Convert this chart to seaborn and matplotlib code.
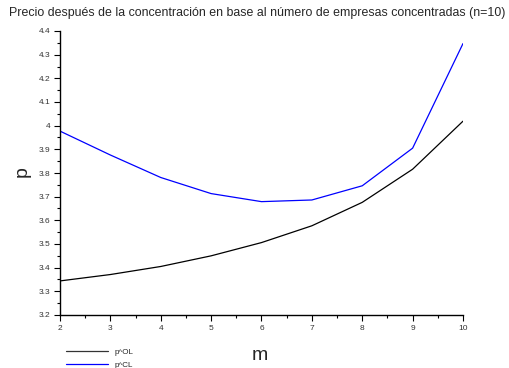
import matplotlib
matplotlib.use("Agg")
import matplotlib.pyplot as plt
from matplotlib.ticker import MultipleLocator
import numpy as np
import pandas as pd
import seaborn as sns

# number of merged firms
m_values = [2, 3, 4, 5, 6, 7, 8, 9, 10]
# price after the merger, open-loop and closed-loop
p_ol = [3.344, 3.371, 3.405, 3.450, 3.506, 3.577, 3.676, 3.816, 4.019]
p_cl = [3.977, 3.876, 3.781, 3.713, 3.679, 3.686, 3.746, 3.905, 4.347]
series_names = ["p^OL", "p^CL"]

df = pd.DataFrame({
    "m": m_values * 2,
    "p": p_ol + p_cl,
    "serie": [series_names[0]] * len(m_values) + [series_names[1]] * len(m_values),
})

sns.set_style("white")
plt.rcParams["font.family"] = ["Liberation Sans", "DejaVu Sans"]

fig = plt.figure(figsize=(5.10, 3.68), dpi=100)
ax = fig.add_axes([60 / 510, 1 - 315 / 368, (463 - 60) / 510, (315 - 31) / 368])

sns.lineplot(data=df, x="m", y="p", hue="serie", palette=["black", "blue"],
             linewidth=0.9, ax=ax, legend=False)

ax.set_xlim(2, 10)
ax.set_ylim(3.2, 4.4)
ax.xaxis.set_major_locator(MultipleLocator(1))
ax.xaxis.set_minor_locator(MultipleLocator(0.5))
ax.yaxis.set_minor_locator(MultipleLocator(0.05))
yticks = np.round(np.arange(3.2, 4.41, 0.1), 1)
ax.set_yticks(yticks)
ax.set_yticklabels([f"{v:g}" for v in yticks])

for side in ("top", "right"):
    ax.spines[side].set_visible(False)
for side in ("left", "bottom"):
    ax.spines[side].set_color("black")
    ax.spines[side].set_linewidth(1.0)

ax.tick_params(which="major", direction="out", length=4, width=0.8, color="black",
               labelsize=6, labelcolor="#333333", bottom=True, left=True, pad=3)
ax.tick_params(which="minor", direction="out", length=2, width=0.8, color="black",
               bottom=True, left=True)

ax.set_xlabel("")
ax.set_ylabel("")
fig.text(260 / 510, 1 - 355 / 368, "m", fontsize=14, ha="center", va="center")
fig.text(22 / 510, 1 - 172 / 368, "p", fontsize=14, ha="center", va="center", rotation=90)

fig.text(257 / 510, 1 - 13 / 368,
         "Precio después de la concentración en base al número de empresas concentradas (n=10)",
         fontsize=8.9, ha="center", va="center")

# legend lines below the axes
handles = [plt.Line2D([], [], color="#333333", linewidth=0.9),
           plt.Line2D([], [], color="blue", linewidth=0.9)]
fig.legend(handles, series_names, loc="upper left",
           bbox_to_anchor=(60 / 510, 1 - 343 / 368), frameon=False, fontsize=5.8,
           handlelength=5.3, handletextpad=0.8, labelspacing=0.6, borderpad=0.2)

fig.savefig("out.png", dpi=100)
